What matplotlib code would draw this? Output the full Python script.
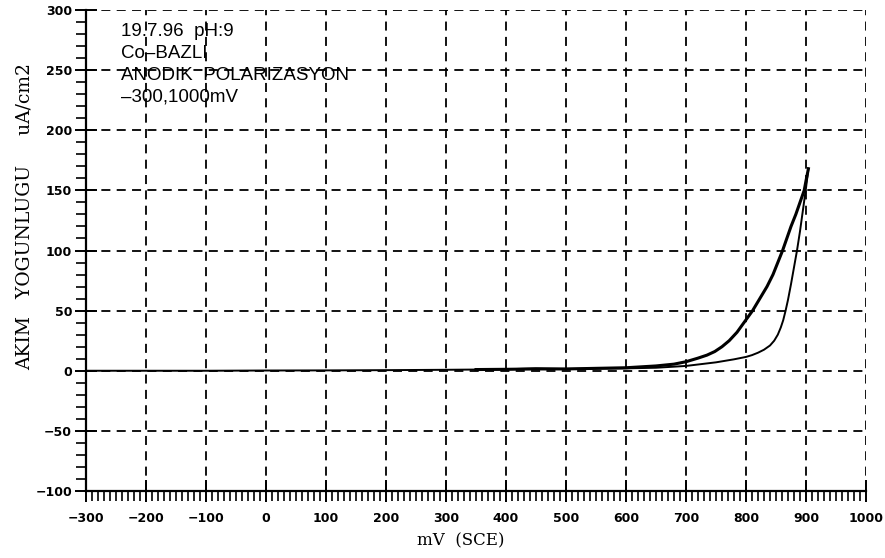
import matplotlib
matplotlib.use("Agg")
import matplotlib.pyplot as plt
from matplotlib.ticker import MultipleLocator

# Forward (lower/right) branch: potential in mV (SCE), current density uA/cm2
fwd_mv = [-300, -200, -100, 0, 100, 200, 300, 350, 400, 450, 500, 550, 600,
          650, 700, 750, 780, 800, 810, 820, 830, 840, 847, 853, 858, 862,
          866, 870, 875, 880, 885, 890, 895, 900, 904]
fwd_ua = [0, 0, 0, 0.2, 0.3, 0.5, 0.8, 1.0, 1.2, 2.0, 1.5, 1.8, 2.0,
          2.5, 4.0, 7.0, 9.5, 11.5, 13, 15, 17.5, 21, 25, 30, 36, 42,
          50, 59, 72, 86, 100, 116, 134, 152, 168]

# Reverse (upper/left) branch
rev_mv = [904, 900, 897, 890, 883, 875, 868, 861, 853, 845, 835, 823, 811,
          798, 785, 772, 760, 748, 735, 720, 700, 680, 650, 600, 550, 500,
          450, 400, 350]
rev_ua = [168, 158, 150, 140, 130, 120, 110, 100, 90, 80, 70, 60, 50,
          41, 32, 25, 20, 16, 13, 10.5, 7.5, 5.5, 4.0, 2.5, 2.0, 1.5,
          1.5, 1.2, 1.0]

annotation = ["19.7.96  pH:9", "Co\u2013BAZLI", "ANODIK  POLARIZASYON", "\u2013300,1000mV"]
xlabel = "mV  (SCE)"
ylabel = "AKIM   YOGUNLUGU     uA/cm2"

fig = plt.figure(figsize=(8.85, 5.58), dpi=100)
ax = fig.add_axes([86/885, 1-491/558, (866-86)/885, (491-10)/558])

ax.plot(fwd_mv, fwd_ua, color="black", lw=1.4)
ax.plot(rev_mv, rev_ua, color="black", lw=2.2)

ax.set_xlim(-300, 1000)
ax.set_ylim(-100, 300)
ax.xaxis.set_major_locator(MultipleLocator(100))
ax.xaxis.set_minor_locator(MultipleLocator(10))
ax.yaxis.set_major_locator(MultipleLocator(50))
ax.yaxis.set_minor_locator(MultipleLocator(10))

ax.grid(True, which="major", color="black", linestyle=(0, (5, 3.5)), lw=1.3)
ax.set_axisbelow(True)
for s in ["top", "right"]:
    ax.spines[s].set_visible(False)
for s in ["left", "bottom"]:
    ax.spines[s].set_linewidth(1.6)

ax.tick_params(axis="both", which="major", direction="inout", length=16, width=1.4,
               pad=2)
ax.tick_params(axis="both", which="minor", direction="out", length=7, width=1.2)
ax.tick_params(axis="x", which="major", pad=7)

def fmt(v):
    v = int(round(v))
    return ("\u2212" + str(-v)) if v < 0 else str(v)

xt = list(range(-300, 1001, 100))
yt = list(range(-100, 301, 50))
ax.set_xticks(xt)
ax.set_xticklabels([fmt(v) for v in xt], fontfamily="DejaVu Sans", fontweight="bold", fontsize=9)
ax.set_yticks(yt)
ax.set_yticklabels([fmt(v) for v in yt], fontfamily="DejaVu Sans", fontweight="bold", fontsize=9)

fig.text(461/885, 1-541/558, xlabel, ha="center", va="center",
         fontfamily="DejaVu Serif", fontsize=12)
fig.text(25/885, 1-217/558, ylabel, ha="center", va="center", rotation=90,
         fontfamily="DejaVu Serif", fontsize=13.5)

for i, line in enumerate(annotation):
    fig.text(121/885, 1-(31 + i*22)/558, line, ha="left", va="center",
             fontfamily="Liberation Sans", fontsize=13.5)

fig.savefig("out.png", dpi=100)
